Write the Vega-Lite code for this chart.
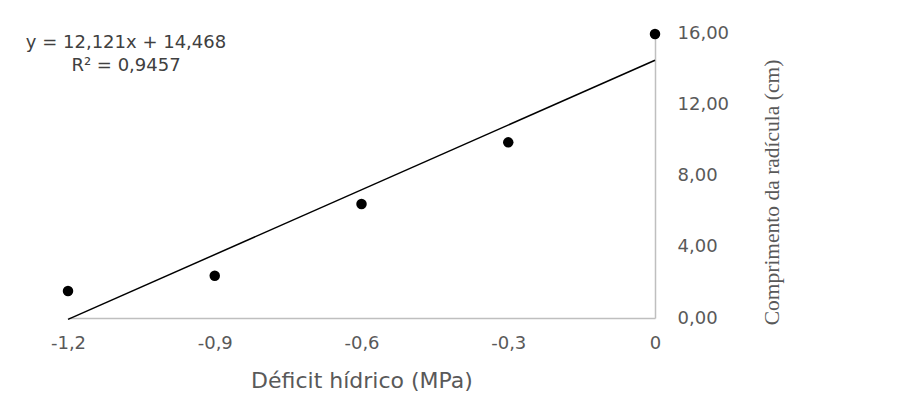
{
  "$schema": "https://vega.github.io/schema/vega-lite/v6.json",
  "width": 921,
  "height": 414,
  "padding": {"left": 50, "top": 24, "right": 137, "bottom": 23},
  "autosize": {"type": "fit", "contains": "padding"},
  "background": "white",
  "config": {"view": {"stroke": null}, "font": "DejaVu Sans"},
  "datasets": {
    "points": [
      {"deficit": -1.2, "comprimento": 1.52},
      {"deficit": -0.9, "comprimento": 2.37},
      {"deficit": -0.6, "comprimento": 6.40},
      {"deficit": -0.3, "comprimento": 9.86},
      {"deficit": 0.0, "comprimento": 15.94}
    ],
    "trend": [
      {"deficit": -1.2, "comprimento": -0.077},
      {"deficit": 0.0, "comprimento": 14.468}
    ]
  },
  "layer": [
    {
      "data": {"name": "trend"},
      "mark": {"type": "line", "color": "black", "strokeWidth": 1.5},
      "encoding": {
        "x": {
          "field": "deficit", "type": "quantitative",
          "scale": {"domain": [-1.2, 0], "nice": false, "zero": false},
          "axis": {
            "orient": "bottom",
            "values": [-1.2, -0.9, -0.6, -0.3, 0],
            "labelExpr": "replace(toString(datum.value), '.', ',')",
            "ticks": false, "grid": false,
            "domainColor": "#bfbfbf", "domainWidth": 1.5,
            "labelColor": "#595959", "labelFontSize": 18, "labelPadding": 16,
            "labelFlush": false, "labelOverlap": false, "labelBound": false,
            "title": "Déficit hídrico (MPa)",
            "titleFontSize": 22, "titleFontWeight": "normal", "titleColor": "#595959",
            "titlePadding": 18
          }
        },
        "y": {
          "field": "comprimento", "type": "quantitative",
          "scale": {"domain": [0, 16], "nice": false},
          "axis": {
            "orient": "right",
            "values": [0, 4, 8, 12, 16],
            "labelExpr": "replace(format(datum.value, '.2f'), '.', ',')",
            "ticks": false, "grid": false,
            "domainColor": "#bfbfbf", "domainWidth": 1.5,
            "labelColor": "#595959", "labelFontSize": 18, "labelPadding": 22,
            "labelOverlap": false, "labelBound": false, "labelFlush": false,
            "title": "Comprimento da radícula (cm)",
            "titleFont": "Liberation Serif", "titleFontSize": 21.5, "titleFontWeight": "normal",
            "titleColor": "#595959", "titleAngle": 270, "titleBaseline": "top",
            "titleY": 159, "titlePadding": 33
          }
        }
      }
    },
    {
      "data": {"name": "points"},
      "mark": {"type": "point", "filled": true, "color": "black", "size": 110, "opacity": 1},
      "encoding": {
        "x": {"field": "deficit", "type": "quantitative"},
        "y": {"field": "comprimento", "type": "quantitative"}
      }
    },
    {
      "data": {"values": [{}]},
      "mark": {
        "type": "text",
        "text": ["y = 12,121x + 14,468", "R² = 0,9457"],
        "font": "DejaVu Sans", "fontSize": 18, "color": "#404040",
        "align": "center", "baseline": "middle", "lineHeight": 23
      },
      "encoding": {
        "x": {"datum": -1.0814},
        "y": {"datum": 15.46}
      }
    }
  ]
}
